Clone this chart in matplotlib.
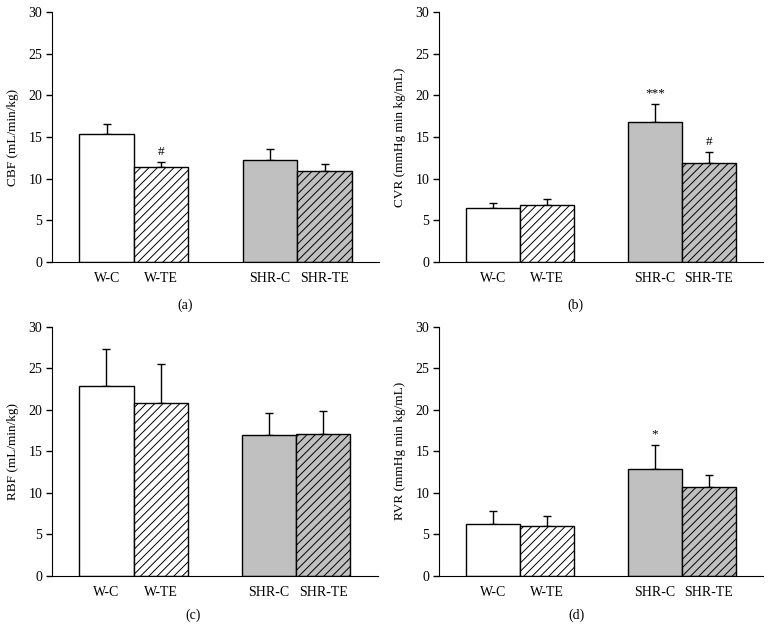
# Import libraries
import matplotlib
matplotlib.use("Agg")
import matplotlib.pyplot as plt

# ==============================
# 1. Data
# ==============================

groups = ["W-C", "W-TE", "SHR-C", "SHR-TE"]
positions = [0, 1, 3, 4]

cbf_mean = [15.3, 11.45, 12.25, 10.95]
cbf_sem = [1.3, 0.55, 1.25, 0.75]
cbf_marks = ["", "#", "", ""]

cvr_mean = [6.45, 6.85, 16.8, 11.9]
cvr_sem = [0.65, 0.65, 2.2, 1.25]
cvr_marks = ["", "", "***", "#"]

rbf_mean = [22.8, 20.8, 17.0, 17.1]
rbf_sem = [4.5, 4.7, 2.6, 2.8]
rbf_marks = ["", "", "", ""]

rvr_mean = [6.2, 6.0, 12.9, 10.7]
rvr_sem = [1.6, 1.25, 2.9, 1.4]
rvr_marks = ["", "", "*", ""]

fill_colors = ["white", "white", "#c0c0c0", "#c0c0c0"]
hatches = ["", "////", "", "////"]

plt.rcParams["font.family"] = ["Liberation Serif", "DejaVu Serif"]
plt.rcParams["hatch.linewidth"] = 0.7

# ==============================
# 2. Figure and panels
# ==============================

fig = plt.figure(figsize=(7.73, 6.41), dpi=100)

panels = [
    ([0.0675, 0.5913, 0.423, 0.390], cbf_mean, cbf_sem, cbf_marks, "CBF (mL/min/kg)", "(a)", (0.239, 0.524)),
    ([0.568, 0.5913, 0.419, 0.390], cvr_mean, cvr_sem, cvr_marks, "CVR (mmHg min kg/mL)", "(b)", (0.744, 0.524)),
    ([0.0675, 0.1014, 0.421, 0.389], rbf_mean, rbf_sem, rbf_marks, "RBF (mL/min/kg)", "(c)", (0.25, 0.0406)),
    ([0.568, 0.1014, 0.419, 0.389], rvr_mean, rvr_sem, rvr_marks, "RVR (mmHg min kg/mL)", "(d)", (0.746, 0.0406)),
]

for rect, mean, sem, marks, ylabel, tag, tag_xy in panels:
    ax = fig.add_axes(rect)
    ax.bar(positions, mean, width=1.0, color=fill_colors, hatch=hatches,
           edgecolor="black", linewidth=1.0, zorder=2)
    ax.errorbar(positions, mean, yerr=[[0] * 4, sem], fmt="none",
                ecolor="black", elinewidth=1.0, capsize=3, capthick=1.0, zorder=1)

    for x, m, s, mark in zip(positions, mean, sem, marks):
        if mark:
            ax.annotate(mark, (x, m + s), xytext=(0, 3), textcoords="offset points",
                        ha="center", va="bottom", fontsize=9.5)

    ax.set_xlim(-1, 5)
    ax.set_ylim(0, 30)
    ax.set_yticks(range(0, 31, 5))
    ax.set_xticks(positions)
    ax.set_xticklabels(groups)
    ax.tick_params(axis="x", length=0, pad=7, labelsize=10)
    ax.tick_params(axis="y", direction="out", length=4, width=1, pad=3, labelsize=10)
    ax.set_ylabel(ylabel, fontsize=9.5, labelpad=7)
    ax.spines["top"].set_visible(False)
    ax.spines["right"].set_visible(False)

    fig.text(tag_xy[0], tag_xy[1], tag, ha="center", va="center", fontsize=10)

plt.savefig("out.png", dpi=100)
